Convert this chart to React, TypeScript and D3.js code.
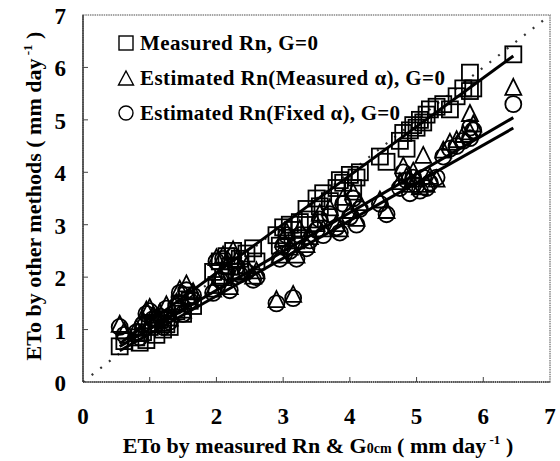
import React from "react";
import * as d3 from "d3";

// ETo by measured Rn & G0cm (x)
const xValues = [
  0.55, 0.62, 0.8, 0.85, 0.9, 0.95, 1.0, 1.05, 1.1, 1.15, 1.2, 1.25, 1.3,
  1.4, 1.45, 1.5, 1.55, 1.6, 1.65,
  1.95, 2.0, 2.05, 2.1, 2.15, 2.2, 2.25, 2.3, 2.35, 2.45, 2.55, 2.6,
  2.9, 2.95, 3.0, 3.05, 3.1, 3.15, 3.2, 3.25,
  3.35, 3.4, 3.5, 3.55, 3.6, 3.7, 3.8,
  3.85, 3.9, 4.0, 4.05, 4.1, 4.15,
  4.45, 4.55,
  4.75, 4.8, 4.85, 4.9, 4.95, 5.0, 5.05, 5.1, 5.15, 5.2,
  5.3, 5.4, 5.5,
  5.6, 5.7, 5.8, 5.85, 5.8,
  6.45,
];
// Measured Rn, G=0 (squares)
const measuredRn = [
  0.68, 0.78, 0.85, 0.75, 0.95, 0.8, 1.05, 1.1, 0.9, 1.2, 1.0, 1.1, 1.05,
  1.35, 1.5, 1.3, 1.65, 1.55, 1.45,
  2.1, 1.85, 2.3, 2.0, 2.4, 2.2, 2.5, 2.1, 2.35, 2.45, 2.55, 2.3,
  2.8, 2.6, 2.95, 2.75, 3.0, 2.9, 2.7, 3.05,
  3.3, 3.1, 3.5, 3.35, 3.6, 3.45, 3.7,
  3.85, 3.8, 3.95, 3.7, 3.9, 4.0,
  4.3, 4.2,
  4.6, 4.75, 4.45, 4.8, 4.9, 4.85, 5.0, 4.95, 5.1, 5.2,
  5.25, 5.3, 5.2,
  5.45, 5.6, 5.9, 5.6, 5.55,
  6.25,
];
// Estimated Rn (Measured alpha), G=0 (triangles)
const estMeasuredAlpha = [
  1.08, 0.95, 1.0, 0.9, 1.15, 1.35, 1.4, 1.25, 1.2, 1.3, 1.1, 1.45, 1.2,
  1.5, 1.75, 1.35, 1.85, 1.6, 1.7,
  1.75, 2.35, 2.0, 2.4, 2.2, 1.8, 2.5, 2.3, 2.1, 2.2, 2.0, 2.1,
  1.55, 2.4, 2.7, 2.85, 2.55, 1.65, 2.4, 2.9,
  2.6, 2.75, 3.0, 3.2, 2.9, 3.3, 3.0,
  2.9, 3.5, 3.25, 3.6, 3.1, 3.4,
  3.45, 3.25,
  3.8, 4.1, 3.9, 3.75, 4.0, 3.85, 3.7, 4.3, 3.75, 3.9,
  3.85, 4.4, 4.55,
  4.6, 4.7, 5.1, 4.9, 4.75,
  5.6,
];
// Estimated Rn (Fixed alpha), G=0 (circles)
const estFixedAlpha = [
  1.05, 0.9, 0.95, 0.85, 1.1, 1.3, 1.35, 1.2, 1.1, 1.25, 1.05, 1.4, 1.15,
  1.45, 1.7, 1.3, 1.75, 1.55, 1.65,
  1.7, 2.3, 1.95, 2.35, 2.1, 1.75, 2.4, 2.2, 2.05, 2.1, 1.95, 2.0,
  1.5, 2.35, 2.6, 2.8, 2.5, 1.6, 2.35, 2.8,
  2.55, 2.7, 2.9, 3.1, 2.8, 3.2, 2.95,
  2.85, 3.4, 3.15, 3.5, 3.0, 3.3,
  3.4, 3.2,
  3.7, 4.0, 3.85, 3.6, 3.9, 3.75, 3.65, 3.9, 3.7, 3.8,
  3.9, 4.3, 4.45,
  4.5, 4.6, 4.85, 4.8, 4.65,
  5.3,
];

// Regression lines: squares, triangles, circles
const fitSlopes = [0.93, 0.74, 0.72];
const fitIntercepts = [0.22, 0.27, 0.2];
const fitRange = [0.55, 6.45];

const ticks = [0, 1, 2, 3, 4, 5, 6, 7];
const legendLabels = [
  "Measured Rn, G=0",
  "Estimated Rn(Measured α), G=0",
  "Estimated Rn(Fixed α), G=0",
];

const FONT = "'Liberation Serif', 'Times New Roman', serif";

export default function App() {
  const x = d3.scaleLinear().domain([0, 7]).range([83, 550]);
  const y = d3.scaleLinear().domain([0, 7]).range([382, 15]);
  const line = d3
    .line<[number, number]>()
    .x((d) => x(d[0]))
    .y((d) => y(d[1]));

  const sq = 8;
  const triPath = (cx: number, cy: number) => {
    const h = 16;
    const w = 16;
    return `M${cx},${cy - h * 0.6}L${cx + w / 2},${cy + h * 0.4}L${cx - w / 2},${cy + h * 0.4}Z`;
  };

  const legendY = [50, 85, 120];
  const legendWidths = [178, 305, 260];

  return (
    <svg
      width={560}
      height={461}
      style={{ position: "absolute", left: 0, top: 0, background: "#fff" }}
      fontFamily={FONT}
      fontWeight="bold"
    >
      <rect x={0} y={0} width={560} height={461} fill="#fff" />
      {/* frame */}
      <rect
        x={x(0)}
        y={y(7)}
        width={x(7) - x(0)}
        height={y(0) - y(7)}
        fill="none"
        stroke="#888"
        strokeWidth={1.5}
        strokeDasharray="1.5,0.8"
      />
      <line x1={x(0)} x2={x(0)} y1={y(0)} y2={y(7)} stroke="#222" strokeWidth={1.3} />
      <line x1={x(0)} x2={x(7)} y1={y(0)} y2={y(0)} stroke="#333" strokeWidth={1.6} strokeDasharray="1.5,0.6" />
      {ticks.slice(1, 7).map((t) => (
        <g key={"t" + t}>
          <line x1={x(t)} x2={x(t)} y1={y(0)} y2={y(0) - 5} stroke="#444" strokeWidth={1} />
          <line x1={x(0)} x2={x(0) + 5} y1={y(t)} y2={y(t)} stroke="#444" strokeWidth={1} />
        </g>
      ))}
      {/* tick labels */}
      {ticks.map((t) => (
        <text key={"xl" + t} x={x(t)} y={424} fontSize={23} textAnchor="middle">
          {t}
        </text>
      ))}
      {ticks.map((t) => (
        <text key={"yl" + t} x={66} y={y(t) + 9} fontSize={23} textAnchor="end">
          {t}
        </text>
      ))}
      {/* 1:1 line */}
      <path
        d={line([
          [0, 0],
          [7, 7],
        ])!}
        stroke="#333"
        strokeWidth={2.2}
        strokeDasharray="2,9"
        fill="none"
      />
      {/* markers */}
      <g fill="none" stroke="#000" strokeWidth={1.8}>
        {xValues.map((xv, i) => (
          <rect key={"s" + i} x={x(xv) - sq} y={y(measuredRn[i]) - sq} width={sq * 2} height={sq * 2} />
        ))}
        {xValues.map((xv, i) => (
          <path key={"tr" + i} d={triPath(x(xv), y(estMeasuredAlpha[i]))} />
        ))}
        {xValues.map((xv, i) => (
          <circle key={"c" + i} cx={x(xv)} cy={y(estFixedAlpha[i])} r={8} />
        ))}
      </g>
      {/* regression lines */}
      {fitSlopes.map((m, k) => (
        <path
          key={"f" + k}
          d={line(fitRange.map((xv) => [xv, fitIntercepts[k] + m * xv] as [number, number]))!}
          stroke="#000"
          strokeWidth={3}
          fill="none"
        />
      ))}
      {/* legend */}
      <g fill="none" stroke="#000" strokeWidth={1.4}>
        <rect x={119} y={legendY[0] - 14} width={14} height={14} />
        <path d={`M126,${legendY[1] - 14}L133.5,${legendY[1]}L118.5,${legendY[1]}Z`} />
        <circle cx={126} cy={legendY[2] - 7} r={7} />
      </g>
      {legendLabels.map((l, i) => (
        <text
          key={"lg" + i}
          x={140}
          y={legendY[i]}
          fontSize={21}
          textLength={legendWidths[i]}
          lengthAdjust="spacing"
        >
          {l}
        </text>
      ))}
      {/* axis titles */}
      <text x={318} y={453} fontSize={22} textAnchor="middle">
        ETo by measured Rn &amp; G
        <tspan fontSize={14}>0cm</tspan>
        <tspan> ( mm day</tspan>
        <tspan fontSize={13} dy={-9}>
          {" -1"}
        </tspan>
        <tspan dy={9}> )</tspan>
      </text>
      <text transform="translate(41,196) rotate(-90)" fontSize={22} textAnchor="middle">
        ETo by other methods ( mm day
        <tspan fontSize={13} dy={-9}>
          {" -1"}
        </tspan>
        <tspan dy={9}> )</tspan>
      </text>
    </svg>
  );
}
